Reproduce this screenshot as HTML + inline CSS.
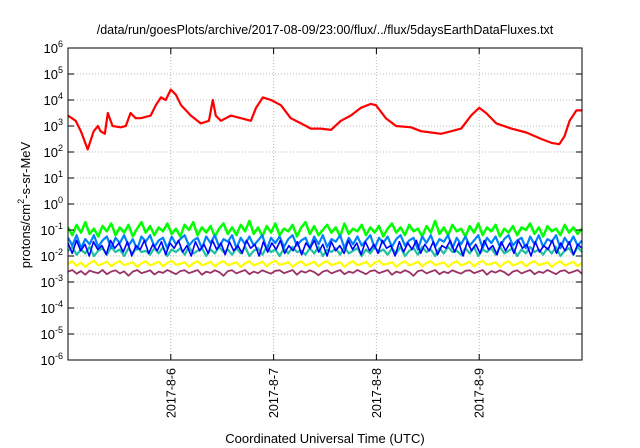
<!DOCTYPE html>
<html><head><meta charset="utf-8"><style>
body{margin:0;background:#fff}
svg{display:block;font-family:"Liberation Sans",sans-serif}
</style></head><body>
<svg id="chart" width="640" height="448" viewBox="0 0 640 448"></svg>
<script>
const xTickLabels = ["2017-8-6","2017-8-7","2017-8-8","2017-8-9"];
const xTickHours = [24,48,72,96];
const yTickExps = [6,5,4,3,2,1,0,-1,-2,-3,-4,-5,-6];
const redHours = [0,1.8,3,4.6,6,7,7.6,8.6,9.3,10.4,12.3,13.5,14.6,15.8,17,19.3,20.5,21.7,22.8,24,25.2,26.4,28.7,31,32.9,33.8,34.5,35.7,38,40.4,42.7,43.9,45.5,47.4,49.7,52,54.4,56.7,59,61.4,63.7,66,68.4,70.7,71.9,74.2,76.6,80.1,82.4,84.8,87.1,89.5,91.8,94.1,96,97.6,100,103.5,107,110.5,112.9,114.7,115.9,117.1,118.7,120];
const redLog = [3.4,3.2,2.8,2.1,2.8,3.0,2.8,2.7,3.5,3.0,2.95,3.0,3.5,3.3,3.3,3.4,3.8,4.1,4.0,4.4,4.2,3.8,3.4,3.1,3.2,4.0,3.4,3.2,3.4,3.3,3.2,3.7,4.1,4.0,3.8,3.3,3.1,2.9,2.9,2.85,3.2,3.4,3.7,3.85,3.8,3.3,3.0,2.95,2.8,2.75,2.7,2.8,2.9,3.4,3.7,3.5,3.1,2.9,2.75,2.5,2.35,2.3,2.6,3.2,3.6,3.6];
const greenLog = [-0.9,-1.2,-0.8,-1.1,-0.7,-1.15,-0.95,-1.25,-0.85,-1.05,-0.75,-1.2,-0.9,-1.1,-0.8,-1.25,-0.95,-0.7,-1.1,-0.85,-1.2,-0.9,-1.05,-0.75,-1.15,-0.95,-1.25,-0.8,-1.0,-0.7,-1.2,-0.9,-1.1,-0.85,-1.25,-0.95,-0.75,-1.15,-0.9,-1.2,-0.8,-1.05,-0.65,-1.15,-0.9,-1.25,-0.85,-1.1,-0.75,-1.2,-0.95,-1.05,-0.8,-1.25,-0.9,-0.7,-1.15,-0.85,-1.2,-1.0,-0.8,-1.1,-0.9,-1.25,-0.75,-1.15,-0.95,-1.05,-0.8,-1.2,-0.9,-1.1,-0.85,-1.25,-0.95,-0.75,-1.1,-0.9,-1.2,-0.8,-1.05,-0.95,-1.25,-0.85,-1.1,-0.65,-1.15,-0.9,-1.2,-0.8,-1.05,-0.95,-1.25,-0.85,-1.1,-0.75,-1.2,-0.9,-1.05,-0.8,-1.25,-0.95,-1.1,-0.85,-1.2,-0.9,-1.0,-0.75,-1.15,-0.9,-1.25,-0.85,-1.05,-0.95,-1.2,-0.8,-1.1,-0.9,-1.15,-0.95];
const azureLog = [-1.3,-1.6,-1.2,-1.7,-1.35,-1.55,-1.2,-1.65,-1.4,-1.25,-1.7,-1.3,-1.5,-1.2,-1.6,-1.35,-1.75,-1.25,-1.45,-1.2,-1.65,-1.4,-1.3,-1.7,-1.25,-1.55,-1.35,-1.2,-1.6,-1.4,-1.3,-1.7,-1.25,-1.5,-1.2,-1.65,-1.35,-1.45,-1.2,-1.7,-1.3,-1.55,-1.25,-1.6,-1.4,-1.2,-1.75,-1.3,-1.5,-1.25,-1.65,-1.35,-1.2,-1.6,-1.4,-1.3,-1.7,-1.25,-1.55,-1.2,-1.65,-1.35,-1.45,-1.2,-1.7,-1.3,-1.55,-1.25,-1.6,-1.4,-1.2,-1.7,-1.3,-1.5,-1.25,-1.65,-1.35,-1.2,-1.6,-1.4,-1.3,-1.75,-1.25,-1.5,-1.2,-1.65,-1.35,-1.45,-1.2,-1.7,-1.3,-1.55,-1.25,-1.6,-1.4,-1.2,-1.7,-1.3,-1.5,-1.25,-1.65,-1.35,-1.2,-1.6,-1.4,-1.3,-1.7,-1.25,-1.55,-1.2,-1.65,-1.35,-1.45,-1.2,-1.7,-1.3,-1.55,-1.25,-1.6,-1.4];
const blueLog = [-1.5,-1.9,-1.4,-1.8,-1.55,-2.0,-1.45,-1.75,-1.6,-1.95,-1.4,-1.7,-1.5,-1.85,-1.45,-2.0,-1.6,-1.75,-1.4,-1.9,-1.55,-1.8,-1.45,-1.95,-1.5,-1.7,-1.4,-1.85,-1.6,-2.0,-1.45,-1.8,-1.55,-1.9,-1.4,-1.75,-1.5,-1.95,-1.45,-1.8,-1.6,-1.9,-1.4,-1.7,-1.55,-2.0,-1.45,-1.85,-1.5,-1.75,-1.4,-1.9,-1.6,-1.8,-1.45,-1.95,-1.5,-1.7,-1.4,-1.85,-1.55,-2.0,-1.45,-1.8,-1.6,-1.9,-1.4,-1.75,-1.5,-1.95,-1.45,-1.8,-1.55,-1.9,-1.4,-1.7,-1.6,-2.0,-1.45,-1.85,-1.5,-1.75,-1.4,-1.9,-1.55,-1.8,-1.45,-1.95,-1.6,-1.7,-1.4,-1.85,-1.5,-2.0,-1.45,-1.8,-1.55,-1.9,-1.4,-1.75,-1.6,-1.95,-1.45,-1.8,-1.5,-1.9,-1.4,-1.7,-1.55,-2.0,-1.45,-1.85,-1.6,-1.75,-1.4,-1.9,-1.5,-1.8,-1.45,-1.95,-1.55,-1.7];
const tealLog = [-1.8,-1.65,-1.95,-1.75,-1.9,-1.65,-2.0,-1.8,-1.7,-1.95,-1.65,-1.85,-1.75,-2.0,-1.7,-1.9,-1.65,-1.85,-1.8,-1.95,-1.7,-1.9,-1.65,-2.0,-1.75,-1.85,-1.7,-1.95,-1.65,-1.9,-1.8,-1.7,-2.0,-1.75,-1.9,-1.65,-1.85,-1.75,-1.95,-1.7,-1.9,-1.65,-2.0,-1.8,-1.7,-1.95,-1.65,-1.85,-1.75,-2.0,-1.7,-1.9,-1.65,-1.85,-1.8,-1.95,-1.7,-1.9,-1.65,-2.0,-1.75,-1.85,-1.7,-1.95,-1.65,-1.9,-1.8,-1.7,-2.0,-1.75,-1.9,-1.65,-1.85,-1.75,-1.95,-1.7,-1.9,-1.65,-2.0,-1.8,-1.7,-1.95,-1.65,-1.85,-1.75,-2.0,-1.7,-1.9,-1.65,-1.85,-1.8,-1.95,-1.7,-1.9,-1.65,-2.0,-1.75,-1.85,-1.7,-1.95,-1.65,-1.9,-1.8,-1.7,-2.0,-1.75,-1.9,-1.65,-1.85,-1.75,-1.95,-1.7,-1.9,-1.65,-2.0,-1.8,-1.7,-1.95,-1.65,-1.85];
const yellowLog = [-2.3,-2.2,-2.38,-2.25,-2.42,-2.28,-2.18,-2.36,-2.3,-2.22,-2.4,-2.27,-2.2,-2.35,-2.3,-2.24,-2.42,-2.28,-2.2,-2.36,-2.3,-2.22,-2.4,-2.26,-2.18,-2.34,-2.3,-2.24,-2.42,-2.28,-2.2,-2.36,-2.3,-2.22,-2.4,-2.27,-2.2,-2.35,-2.3,-2.24,-2.42,-2.28,-2.2,-2.36,-2.3,-2.22,-2.4,-2.26,-2.18,-2.34,-2.3,-2.24,-2.42,-2.28,-2.2,-2.36,-2.3,-2.22,-2.4,-2.27,-2.2,-2.35,-2.3,-2.24,-2.42,-2.28,-2.2,-2.36,-2.3,-2.22,-2.4,-2.26,-2.18,-2.34,-2.3,-2.24,-2.42,-2.28,-2.2,-2.36,-2.3,-2.22,-2.4,-2.27,-2.2,-2.35,-2.3,-2.24,-2.42,-2.28,-2.2,-2.36,-2.3,-2.22,-2.4,-2.26,-2.18,-2.34,-2.3,-2.24,-2.42,-2.28,-2.2,-2.36,-2.3,-2.22,-2.4,-2.27,-2.2,-2.35,-2.3,-2.24,-2.42,-2.28,-2.2,-2.36,-2.3,-2.22,-2.4,-2.26];
const purpleLog = [-2.6,-2.54,-2.68,-2.58,-2.72,-2.56,-2.62,-2.66,-2.54,-2.7,-2.6,-2.55,-2.67,-2.59,-2.76,-2.6,-2.54,-2.66,-2.61,-2.55,-2.71,-2.6,-2.65,-2.54,-2.62,-2.7,-2.58,-2.55,-2.66,-2.6,-2.54,-2.72,-2.6,-2.65,-2.55,-2.62,-2.76,-2.58,-2.55,-2.67,-2.6,-2.54,-2.7,-2.6,-2.66,-2.55,-2.62,-2.68,-2.57,-2.55,-2.66,-2.6,-2.54,-2.72,-2.58,-2.64,-2.55,-2.62,-2.74,-2.6,-2.55,-2.67,-2.6,-2.54,-2.7,-2.6,-2.65,-2.54,-2.62,-2.7,-2.58,-2.55,-2.66,-2.6,-2.54,-2.72,-2.6,-2.65,-2.55,-2.62,-2.76,-2.58,-2.55,-2.67,-2.6,-2.54,-2.7,-2.6,-2.66,-2.55,-2.62,-2.68,-2.57,-2.55,-2.66,-2.6,-2.54,-2.72,-2.58,-2.64,-2.55,-2.62,-2.74,-2.6,-2.55,-2.67,-2.6,-2.54,-2.7,-2.6,-2.65,-2.54,-2.62,-2.7,-2.58,-2.55,-2.66,-2.6,-2.54,-2.68];

const L=68,R=582,T=48,B=360,H0=0,H1=120,E0=-6,E1=6;
const xs=h=>L+(h-H0)/(H1-H0)*(R-L);
const ys=e=>B-(e-E0)/(E1-E0)*(B-T);
const NS="http://www.w3.org/2000/svg";
const svg=document.getElementById('chart');
function mk(tag,attrs,parent){const el=document.createElementNS(NS,tag);for(const k in attrs)el.setAttribute(k,attrs[k]);(parent||svg).appendChild(el);return el;}

const grid=mk('g',{});


yTickExps.forEach(e=>{if(e===6||e===-6)return;const l=mk('line',{x1:L,x2:R,y1:ys(e),y2:ys(e),stroke:'#bbb','stroke-dasharray':'1,2','stroke-width':1},grid);

});
xTickHours.forEach(h=>{const l=mk('line',{x1:xs(h),x2:xs(h),y1:T,y2:B,stroke:'#bbb','stroke-dasharray':'1,2','stroke-width':1},grid);

});

function series(hours,vals,color,name,w){
  const pts=vals.map((v,i)=>xs(hours?hours[i]:H0+i*(H1-H0)/(vals.length-1))+','+ys(v)).join(' ');
  const p=mk('polyline',{points:pts,fill:'none',stroke:color,'stroke-width':w,'stroke-linejoin':'round'});
  
  
}
series(null,greenLog,'#00ff00','series-green',2.5);
series(null,tealLog,'#20c0a0','series-teal',2.2);
series(null,azureLog,'#0080ff','series-azure',2.2);
series(null,blueLog,'#0000ff','series-blue',1.6);
series(null,yellowLog,'#ffff00','series-yellow',2.2);
series(null,purpleLog,'#993366','series-purple',1.8);
series(redHours,redLog,'#ff0000','series-red',2.2);

const fr=mk('rect',{x:L,y:T,width:R-L,height:B-T,fill:'none',stroke:'#000','stroke-width':1});



yTickExps.forEach(e=>{
  const y=ys(e);
  const t1=mk('line',{x1:L,x2:L+6,y1:y,y2:y,stroke:'#000'});
  
  
  const t2=mk('line',{x1:R,x2:R-6,y1:y,y2:y,stroke:'#000'});
  
  
  const tx=mk('text',{x:63,y:y+5,'text-anchor':'end','font-size':13,fill:'#000'});
  
  
  const a=document.createElementNS(NS,'tspan');a.textContent='10';tx.appendChild(a);
  const b=document.createElementNS(NS,'tspan');b.setAttribute('dy','-6');b.setAttribute('font-size','9');b.textContent=String(e);tx.appendChild(b);
});
xTickHours.forEach((h,i)=>{
  const x=xs(h);
  const t1=mk('line',{x1:x,x2:x,y1:B,y2:B-6,stroke:'#000'});
  
  
  const t2=mk('line',{x1:x,x2:x,y1:T,y2:T+6,stroke:'#000'});
  
  
  const tx=mk('text',{x:0,y:0,'text-anchor':'end','font-size':12.5,fill:'#000',transform:`translate(${x+4.5},368) rotate(-90)`});
  tx.textContent=xTickLabels[i];
  
  
});
</script>
<svg style="position:absolute;left:0;top:0" width="640" height="448">
<text x="325" y="34" text-anchor="middle" font-size="12.5" font-family="Liberation Sans, sans-serif">/data/run/goesPlots/archive/2017-08-09/23:00/flux/../flux/5daysEarthDataFluxes.txt</text>
<text x="325" y="443" text-anchor="middle" font-size="13" font-family="Liberation Sans, sans-serif">Coordinated Universal Time (UTC)</text>
<text transform="translate(30,205) rotate(-90)" text-anchor="middle" font-size="13" font-family="Liberation Sans, sans-serif">protons/cm<tspan dy="-6" font-size="9">2</tspan><tspan dy="6">-s-sr-MeV</tspan></text>
</svg>
</body></html>
